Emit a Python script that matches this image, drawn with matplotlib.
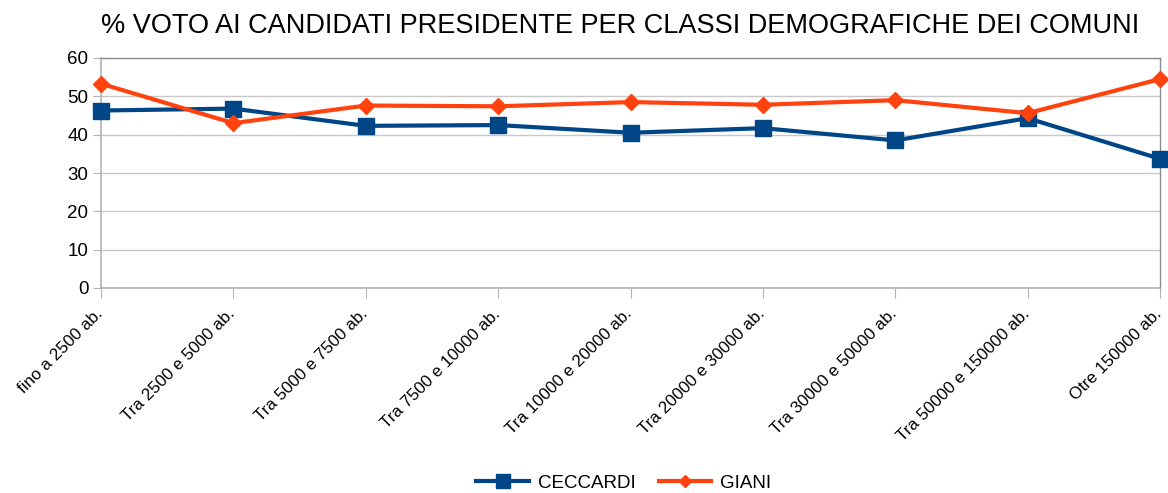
import matplotlib
matplotlib.use('Agg')
import matplotlib.pyplot as plt
from matplotlib.transforms import ScaledTranslation

plt.rcParams['font.family'] = ['Liberation Sans', 'DejaVu Sans']

categories = ['fino a 2500 ab.', 'Tra 2500 e 5000 ab.', 'Tra 5000 e 7500 ab.',
              'Tra 7500 e 10000 ab.', 'Tra 10000 e 20000 ab.', 'Tra 20000 e 30000 ab.',
              'Tra 30000 e 50000 ab.', 'Tra 50000 e 150000 ab.', 'Otre 150000 ab.']
ceccardi = [46.3, 46.8, 42.3, 42.5, 40.5, 41.7, 38.5, 44.3, 33.7]
giani = [53.3, 43.0, 47.6, 47.4, 48.5, 47.8, 49.0, 45.6, 54.5]
y_ticks = [0, 10, 20, 30, 40, 50, 60]

fig = plt.figure(figsize=(11.68, 4.93), dpi=100)
ax = fig.add_axes([101 / 1168, 1 - 288 / 493, (1160 - 101) / 1168, 230 / 493])

x = list(range(len(categories)))
ax.plot(x, ceccardi, color='#004586', lw=3, marker='s', markersize=12,
        label='CECCARDI', zorder=3, clip_on=False)
ax.plot(x, giani, color='#ff420e', lw=3, marker='D', markersize=8,
        label='GIANI', zorder=4, clip_on=False)

ax.set_xlim(0, len(categories) - 1)
ax.set_ylim(0, 60)
ax.set_yticks(y_ticks)
ax.set_xticks(x)
ax.tick_params(axis='y', labelsize=13.5, length=6, color='#b3b3b3', pad=3)
ax.tick_params(axis='x', length=7, color='#b3b3b3', pad=6)
ax.set_xticklabels(categories, rotation=45, ha='right', va='top',
                   rotation_mode='anchor', fontsize=12.2)
# nudge the rotated labels a little to the left so the last one stays inside
offset = ScaledTranslation(-6 / 100, 0, fig.dpi_scale_trans)
for lbl in ax.get_xticklabels():
    lbl.set_transform(lbl.get_transform() + offset)
ax.grid(axis='y', color='#c8c8c8', lw=1)
ax.set_axisbelow(True)
for side in ['left', 'bottom']:
    ax.spines[side].set_color('#b3b3b3')
    ax.spines[side].set_linewidth(1.2)
for side in ['top', 'right']:
    ax.spines[side].set_color('#8c8c8c')
    ax.spines[side].set_linewidth(1)

fig.text(620 / 1168, 1 - 26 / 493, '% VOTO AI CANDIDATI PRESIDENTE PER CLASSI DEMOGRAFICHE DEI COMUNI',
         ha='center', va='center', fontsize=19.5)

fig.legend(loc='center', bbox_to_anchor=(624 / 1168, 1 - 483 / 493), ncol=2,
           frameon=False, fontsize=13.5, handlelength=2.8, columnspacing=1.2,
           handletextpad=0.5, markerscale=0.8)

fig.savefig('out.png', dpi=100)
